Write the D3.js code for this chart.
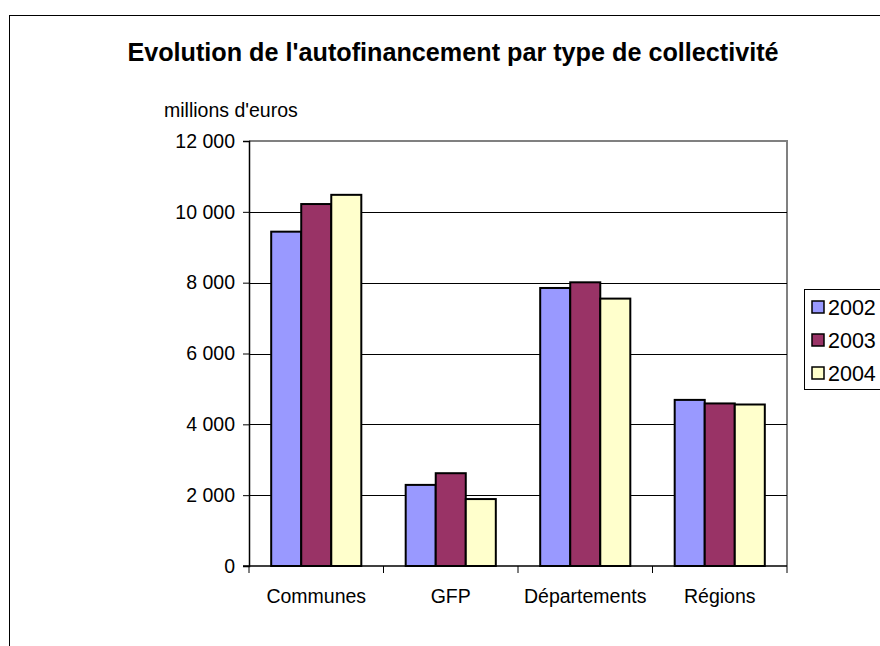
<!DOCTYPE html>
<html>
<head>
<meta charset="utf-8">
<script src="https://cdn.jsdelivr.net/npm/d3@7"></script>
<style>
  body { margin: 0; background: #fff; }
  text { font-family: "Liberation Sans", Arial, sans-serif; fill: #000; }
</style>
</head>
<body>
<svg id="viz" width="880" height="646"></svg>
<script>
var width = 880;
var height = 646;

// values (millions d'euros)
var categories = ["Communes", "GFP", "Départements", "Régions"];
var years = ["2002", "2003", "2004"];
var values2002 = [9440, 2290, 7850, 4690];
var values2003 = [10220, 2620, 8010, 4590];
var values2004 = [10480, 1890, 7550, 4560];
var yTicks = [0, 2000, 4000, 6000, 8000, 10000, 12000];
var colors = ["#9999FF", "#993366", "#FFFFCC"];

var series = [values2002, values2003, values2004];

var plot = { left: 249, top: 141, right: 787, bottom: 566 };

var svg = d3.select("#viz");

// outer chart frame, runs off the page on the right and bottom
svg.append("rect")
    .attr("x", 9.5)
    .attr("y", 15.5)
    .attr("width", 900)
    .attr("height", 700)
    .attr("fill", "none")
    .attr("stroke", "#000")
    .attr("stroke-width", 1);

svg.append("text")
    .attr("x", 453)
    .attr("y", 61)
    .attr("text-anchor", "middle")
    .style("font-size", "25.2px")
    .style("font-weight", "bold")
    .text("Evolution de l'autofinancement par type de collectivité");

svg.append("text")
    .attr("x", 164)
    .attr("y", 117)
    .style("font-size", "19.5px")
    .text("millions d'euros");

var x0 = d3.scaleBand()
    .domain(categories)
    .range([plot.left, plot.right])
    .paddingInner(0.33)
    .paddingOuter(0.165);

var x1 = d3.scaleBand()
    .domain(years)
    .range([0, x0.bandwidth()]);

var y = d3.scaleLinear()
    .domain([0, 12000])
    .range([plot.bottom, plot.top]);

// plot area top and right edges in grey
svg.append("path")
    .attr("d", "M" + plot.left + "," + y(12000) + "H" + plot.right + "V" + plot.bottom)
    .attr("fill", "none")
    .attr("stroke", "#808080")
    .attr("stroke-width", 2);

// grid lines
svg.append("g")
    .selectAll("line")
    .data(yTicks.filter(function(d) { return d > 0 && d < 12000; }))
    .enter().append("line")
    .attr("x1", plot.left)
    .attr("x2", plot.right)
    .attr("y1", function(d) { return Math.round(y(d)) + 0.5; })
    .attr("y2", function(d) { return Math.round(y(d)) + 0.5; })
    .attr("stroke", "#000")
    .attr("stroke-width", 1);

// bars
var groups = svg.append("g")
    .selectAll("g")
    .data(categories)
    .enter().append("g")
    .attr("transform", function(d) { return "translate(" + x0(d) + ",0)"; });

groups.selectAll("rect")
    .data(function(d, i) {
        return years.map(function(yr, j) { return { year: yr, value: series[j][i], idx: j }; });
    })
    .enter().append("rect")
    .attr("x", function(d) { return x1(d.year); })
    .attr("y", function(d) { return y(d.value); })
    .attr("width", x1.bandwidth())
    .attr("height", function(d) { return plot.bottom - y(d.value); })
    .attr("fill", function(d) { return colors[d.idx]; })
    .attr("stroke", "#000")
    .attr("stroke-width", 2);

// y axis
var yAxis = d3.axisLeft(y)
    .tickValues(yTicks)
    .tickSize(6)
    .tickPadding(8)
    .tickFormat(function(d) { return d3.format(",")(d).replace(",", " "); });

var yg = svg.append("g")
    .attr("transform", "translate(" + plot.left + ",0)")
    .call(yAxis);
yg.select(".domain").attr("stroke", "#000").attr("stroke-width", 1.5);
yg.selectAll(".tick line").attr("stroke", "#000");
yg.selectAll("text")
    .style("font-size", "19.5px")
    .style("font-family", "'Liberation Sans', Arial, sans-serif");

// x axis with ticks between categories
var xg = svg.append("g")
    .attr("transform", "translate(0," + plot.bottom + ")");

xg.append("line")
    .attr("x1", plot.left - 6)
    .attr("x2", plot.right)
    .attr("stroke", "#000")
    .attr("stroke-width", 1.5);

var step = x0.step();
xg.selectAll(".sep")
    .data(d3.range(categories.length + 1))
    .enter().append("line")
    .attr("class", "sep")
    .attr("x1", function(d) { return plot.left + d * step; })
    .attr("x2", function(d) { return plot.left + d * step; })
    .attr("y1", 0)
    .attr("y2", 7)
    .attr("stroke", "#000");

xg.selectAll(".cat")
    .data(categories)
    .enter().append("text")
    .attr("class", "cat")
    .attr("x", function(d) { return x0(d) + x0.bandwidth() / 2; })
    .attr("y", 37)
    .attr("text-anchor", "middle")
    .style("font-size", "19.5px")
    .text(function(d) { return d; });

// legend
var legend = svg.append("g");
legend.append("rect")
    .attr("x", 804.5)
    .attr("y", 289.5)
    .attr("width", 100)
    .attr("height", 100)
    .attr("fill", "#fff")
    .attr("stroke", "#000");

var items = legend.selectAll(".item")
    .data(years)
    .enter().append("g")
    .attr("class", "item")
    .attr("transform", function(d, i) { return "translate(0," + (307 + i * 33) + ")"; });

items.append("rect")
    .attr("x", 812)
    .attr("y", -6)
    .attr("width", 12)
    .attr("height", 12)
    .attr("fill", function(d, i) { return colors[i]; })
    .attr("stroke", "#000")
    .attr("stroke-width", 1.5);

items.append("text")
    .attr("x", 828)
    .attr("y", 7.5)
    .style("font-size", "21.5px")
    .text(function(d) { return d; });
</script>
</body>
</html>
